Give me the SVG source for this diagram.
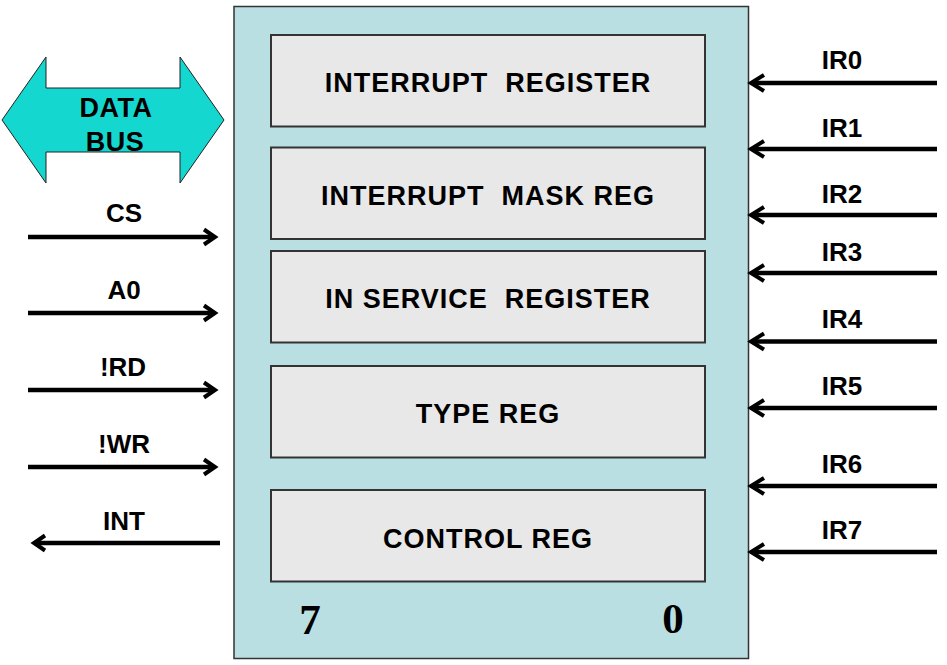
<svg xmlns="http://www.w3.org/2000/svg" width="947" height="665" viewBox="0 0 947 665">
<style>
.lbl{font-family:"Liberation Sans",Arial,sans-serif;font-weight:bold;font-size:26px;fill:#000;text-anchor:middle}
.reg{font-family:"Liberation Sans",Arial,sans-serif;font-weight:bold;font-size:27px;fill:#000;text-anchor:middle;letter-spacing:1px;white-space:pre}
.num{font-family:"Liberation Serif","Times New Roman",serif;font-weight:bold;font-size:43px;fill:#000;text-anchor:middle}
.box{fill:#E8E8E8;stroke:#333;stroke-width:2}
.wire{stroke:#000;stroke-width:4.5;fill:none}
.head{stroke:#000;stroke-width:4;fill:none;stroke-linejoin:miter}
</style>
<rect width="947" height="665" fill="#fff"/>
<g id="chip">
<rect x="234" y="6.5" width="514.5" height="652" fill="#B9DFE2" stroke="#333" stroke-width="1.5"/>
</g>
<g id="interrupt-register">
<rect class="box" x="271" y="35" width="434" height="91.5"/>
<text class="reg" x="488" y="92" xml:space="preserve">INTERRUPT  REGISTER</text>
</g>
<g id="interrupt-mask-reg">
<rect class="box" x="271" y="147.5" width="434" height="91.5"/>
<text class="reg" x="488" y="205" xml:space="preserve">INTERRUPT  MASK REG</text>
</g>
<g id="in-service-register">
<rect class="box" x="271" y="251" width="434" height="91.5"/>
<text class="reg" x="488" y="308" xml:space="preserve">IN SERVICE  REGISTER</text>
</g>
<g id="type-reg">
<rect class="box" x="271" y="366" width="434" height="91.5"/>
<text class="reg" x="488" y="423">TYPE REG</text>
</g>
<g id="control-reg">
<rect class="box" x="271" y="490" width="434" height="91.5"/>
<text class="reg" x="488" y="548">CONTROL REG</text>
</g>
<g id="bit-labels">
<text class="num" x="310" y="634">7</text>
<text class="num" x="673" y="633">0</text>
</g>
<g id="data-bus">
<polygon points="2,120 46,57 46,88 180,88 180,57 224,120 180,183 180,152 46,152 46,183" fill="#14D8D0" stroke="#222" stroke-width="1"/>
<text class="lbl" x="116" y="117" style="font-size:27px;letter-spacing:0.5px">DATA</text>
<text class="lbl" x="115" y="151" style="font-size:27px;letter-spacing:0.5px">BUS</text>
</g>
<g id="connectors">
<line class="wire" x1="28" y1="237" x2="213" y2="237"/>
<polyline class="head" points="204,229.5 215,237 204,244.5"/>
<line class="wire" x1="28" y1="313" x2="213" y2="313"/>
<polyline class="head" points="204,305.5 215,313 204,320.5"/>
<line class="wire" x1="28" y1="390" x2="213" y2="390"/>
<polyline class="head" points="204,382.5 215,390 204,397.5"/>
<line class="wire" x1="28" y1="467" x2="213" y2="467"/>
<polyline class="head" points="204,459.5 215,467 204,474.5"/>
<line class="wire" x1="35" y1="543" x2="220" y2="543"/>
<polyline class="head" points="45,535.5 34,543 45,550.5"/>
<line class="wire" x1="753" y1="83" x2="937" y2="83"/>
<polyline class="head" points="764,75 751,83 764,91"/>
<line class="wire" x1="753" y1="149" x2="937" y2="149"/>
<polyline class="head" points="764,141 751,149 764,157"/>
<line class="wire" x1="753" y1="215" x2="937" y2="215"/>
<polyline class="head" points="764,207 751,215 764,223"/>
<line class="wire" x1="753" y1="273" x2="937" y2="273"/>
<polyline class="head" points="764,265 751,273 764,281"/>
<line class="wire" x1="753" y1="341.5" x2="937" y2="341.5"/>
<polyline class="head" points="764,333.5 751,341.5 764,349.5"/>
<line class="wire" x1="753" y1="408" x2="937" y2="408"/>
<polyline class="head" points="764,400 751,408 764,416"/>
<line class="wire" x1="753" y1="486" x2="937" y2="486"/>
<polyline class="head" points="764,478 751,486 764,494"/>
<line class="wire" x1="753" y1="552" x2="937" y2="552"/>
<polyline class="head" points="764,544 751,552 764,560"/>
</g>
<g id="signal-labels">
<text class="lbl" x="124" y="222">CS</text>
<text class="lbl" x="124" y="299">A0</text>
<text class="lbl" x="123" y="376">!RD</text>
<text class="lbl" x="124" y="453">!WR</text>
<text class="lbl" x="124" y="530">INT</text>
<text class="lbl" x="842" y="69">IR0</text>
<text class="lbl" x="842" y="137">IR1</text>
<text class="lbl" x="842" y="203">IR2</text>
<text class="lbl" x="842" y="261">IR3</text>
<text class="lbl" x="842" y="328">IR4</text>
<text class="lbl" x="842" y="395">IR5</text>
<text class="lbl" x="842" y="473">IR6</text>
<text class="lbl" x="842" y="539">IR7</text>
</g>
</svg>
